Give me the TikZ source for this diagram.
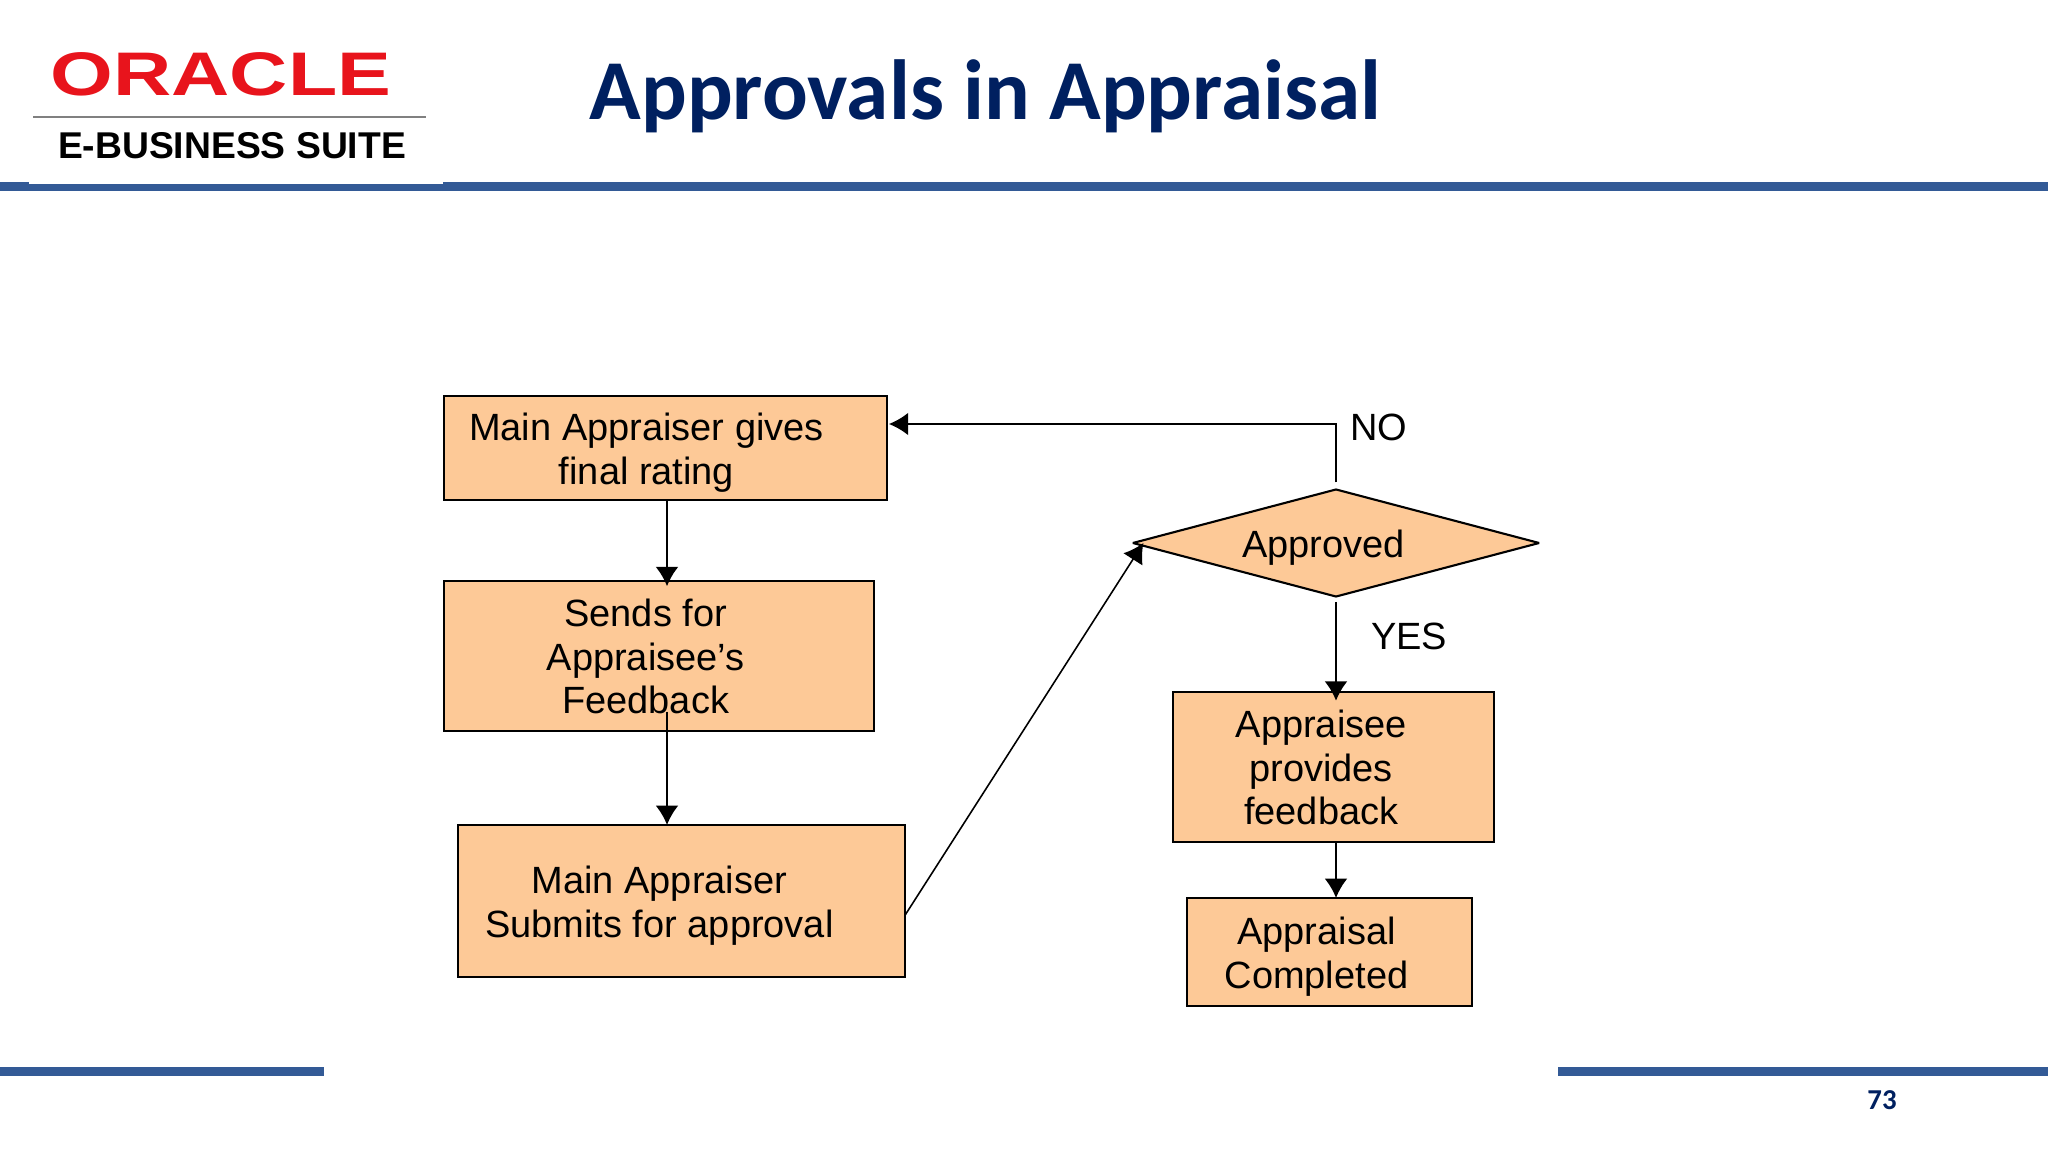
\documentclass[tikz,border=0pt]{standalone}
\usepackage{fontspec}
\usepackage{tikz}
\usetikzlibrary{arrows.meta,shapes.geometric}

\setmainfont{Liberation Sans}
\newfontfamily\slidefont{Carlito}

\definecolor{railblue}{HTML}{335A96}
\definecolor{titleblue}{HTML}{002060}
\definecolor{boxorange}{HTML}{FDC997}
\definecolor{oraclered}{HTML}{E8141C}

\newcommand{\lefttext}[2]{\vbox{\vskip3.2pt\hbox{\begin{tabular}{@{}c@{}}#2\end{tabular}\kern#1}}}

\tikzset{
    flowbox/.style={draw=black, fill=boxorange, line width=0.6pt, inner sep=0pt, outer sep=0pt,
        font=\fontsize{10.8}{12.4}\selectfont},
    flowline/.style={-{Latex[length=5.5pt,width=6.5pt]}, line width=0.6pt},
    rail/.style={fill=railblue, draw=none},
    flowlabel/.style={inner sep=0pt, font=\fontsize{10.8}{12.4}\selectfont},
}

\begin{document}
\begin{tikzpicture}[x=0.01cm, y=-0.01cm]
    \useasboundingbox (0,0) rectangle (2048,1152);

    % rails
    \fill[rail] (0,182) rectangle (2048,191);
    \fill[white] (29,178) rectangle (443,184);
    \fill[rail] (0,1067) rectangle (324,1076);
    \fill[rail] (1558,1067) rectangle (2048,1076);

    % logo
    \node[inner sep=0pt, text=oraclered, xscale=1.31, font=\fontsize{17.5}{17.5}\bfseries\selectfont] (oracle) at (221,74) {ORACLE};
    \draw[line width=0.7pt, gray] (33,117) -- (426,117);
    \node[inner sep=0pt, font=\fontsize{10.6}{12}\bfseries\selectfont] (suite) at (232,146) {E-BUSINESS SUITE};

    % title and page number
    \node[anchor=base west, inner sep=0pt, text=titleblue, font=\slidefont\fontsize{24.25}{24}\bfseries\selectfont] (title) at (589,120) {Approvals in Appraisal};
    \node[inner sep=0pt, text=titleblue, font=\slidefont\fontsize{8.2}{8}\bfseries\selectfont] (pagenum) at (1882,1100) {73};

    % boxes
    \node[flowbox, minimum width=4.43cm, minimum height=1.04cm] (finalrating) at (665.5,448) {\lefttext{10.8pt}{Main Appraiser gives\\final rating}};
    \node[flowbox, minimum width=4.30cm, minimum height=1.50cm] (sendsfor) at (659,656) {\lefttext{7.6pt}{Sends for\\Appraisee’s\\Feedback}};
    \node[flowbox, minimum width=4.47cm, minimum height=1.52cm] (submits) at (681.5,901) {\lefttext{12.6pt}{Main Appraiser\\Submits for approval}};
    \node[flowbox, diamond, aspect=3.8, line join=bevel, minimum width=4.06cm, minimum height=1.07cm] (approved) at (1336,543) {\lefttext{7pt}{Approved}};
    \node[flowbox, minimum width=3.21cm, minimum height=1.50cm] (provides) at (1333.5,767) {\lefttext{7pt}{Appraisee\\provides\\feedback}};
    \node[flowbox, minimum width=2.85cm, minimum height=1.08cm] (completed) at (1329.5,952) {\lefttext{7.4pt}{Appraisal\\Completed}};

    % labels
    \node[flowlabel] (nolabel) at (1379,427) {NO};
    \node[flowlabel] (yeslabel) at (1409,636) {YES};

    % arrows
    \coordinate (leftcol) at (667,0);
    \coordinate (noturn) at (1336,424);

    \draw[flowline, shorten >=-1.5pt] (finalrating.south -| leftcol) -- (sendsfor.north -| leftcol);
    \draw[flowline, shorten <=-5.5pt] (sendsfor.south -| leftcol) -- (submits.north -| leftcol);
    \draw[flowline, line width=0.45pt] ([yshift=-4pt]submits.east) -- ([xshift=3pt]approved.west);
    \draw[flowline, shorten <=2pt, shorten >=0.5pt] (approved.north) -- (noturn) -- (noturn -| finalrating.east);
    \draw[flowline, shorten <=1.5pt, shorten >=-2.5pt] (approved.south) -- (approved.south |- provides.north);
    \draw[flowline] (approved.south |- provides.south) -- (approved.south |- completed.north);
\end{tikzpicture}
\end{document}
